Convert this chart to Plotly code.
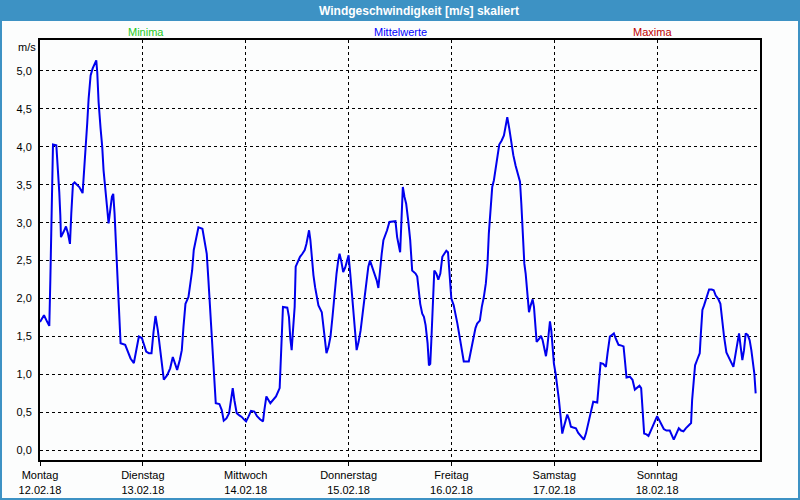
import plotly.graph_objects as go

# ---- data (hours since Monday 12.02.18 00:00, wind speed m/s) ----
hours = [
    0, 0.93, 1.71, 2.17, 2.41, 2.64, 2.87, 3.03, 3.81, 4.19, 4.50, 4.74, 4.89, 5.51, 6.06, 6.52, 6.99,
    7.30, 7.69, 8.08, 9.17, 9.94, 10.25, 10.56, 11.03, 11.34, 11.81, 12.27, 13.13, 13.36, 13.67, 14.14,
    14.52, 14.83, 15.30, 15.69, 16.0, 16.39, 16.78, 17.09, 17.40, 17.79, 18.17, 18.49, 18.80, 19.88,
    20.50, 21.13, 21.90, 22.52, 23.07, 23.77, 24.23, 24.78, 25.40, 26.02, 26.49, 26.95, 27.50, 27.96,
    28.43, 28.89, 29.67, 30.37, 30.99, 31.53, 32.0, 32.62, 33.09, 33.48, 33.94, 34.64, 35.11, 35.50,
    35.88, 36.35, 36.97, 37.90, 38.37, 38.91, 39.30, 39.69, 40.08, 40.54, 41.01, 41.86, 42.41, 42.87,
    43.50, 44.12, 44.58, 44.97, 45.36, 45.90, 46.52, 47.07, 47.53, 48.08, 48.62, 49.24, 50.02, 50.64,
    51.34, 52.04, 52.35, 52.82, 53.75, 54.37, 55.07, 55.92,
    56.06, 56.30, 56.53, 56.69, 57.70, 58.09, 58.41, 58.72, 59.03, 59.42, 59.66, 60.13, 60.67, 61.22,
    61.77, 62.16, 62.47, 62.78, 63.09, 63.41, 63.80, 64.19, 64.58, 64.97, 65.75, 66.14, 66.53, 66.84,
    67.31, 67.78, 68.25, 68.72, 69.19, 69.58, 69.89, 70.28, 70.75, 71.22, 71.69, 72.0, 72.39, 72.78,
    73.09, 73.48, 73.88, 74.34, 74.81, 75.28, 75.75, 76.22, 76.61, 77.0, 77.47, 78.02, 78.56, 78.95,
    79.34, 79.73, 80.13, 80.59, 80.98, 81.53, 82.31, 82.94, 83.33, 83.72, 84.03, 84.34, 84.66, 85.05,
    85.44, 85.91, 86.38, 86.84, 87.63, 88.02, 88.33, 88.72, 89.19, 89.58, 89.97, 90.44, 90.75, 91.06,
    91.30, 91.53, 91.77, 92.0, 92.47, 92.94, 93.41, 93.88, 94.34, 94.81, 95.20, 95.59, 95.98, 96.53,
    97.0, 97.39, 97.78, 98.17, 98.56, 98.88, 100.05, 100.52, 101.06, 101.61, 102.0, 102.63, 103.09,
    103.56, 104.03, 104.42, 104.73, 105.13, 105.52, 105.91, 106.38, 106.77, 107.16, 107.70, 108.25,
    108.64, 109.03, 109.50, 109.97, 110.44, 110.98, 111.53, 111.84,
    112.0, 112.31, 112.54, 112.78, 113.01, 113.32, 113.55, 113.79, 114.10, 114.49, 114.95, 115.26,
    115.57, 115.88, 116.50, 116.89, 117.28, 117.67, 118.06, 118.37, 118.68, 118.99, 119.30, 119.61,
    119.92, 120.31, 120.70, 121.09, 121.48, 121.86, 122.25, 122.72, 123.03, 123.50, 123.88, 124.43,
    125.05, 125.59, 126.21, 126.91, 127.38, 127.92, 128.47, 129.09, 130.02, 130.33, 130.80, 131.42,
    132.04, 132.43, 132.97, 133.44, 133.90, 134.37, 134.99, 135.69, 136.16, 136.47, 136.85, 137.63,
    138.25, 138.80, 139.34, 139.88, 140.27, 140.58, 140.97, 141.51, 141.98, 142.45, 142.91, 143.46,
    144.0, 144.47, 145.01, 145.55, 146.17, 146.95, 147.42, 147.88, 148.50, 149.05, 149.59, 150.14,
    150.68, 151.30, 151.92, 152.16, 152.47, 152.85, 153.32, 153.94, 154.25, 154.56, 154.95, 155.50,
    156.12, 156.74, 157.20, 157.67, 158.21, 158.76, 159.22, 159.61, 160.16, 160.70, 161.24, 161.79,
    162.33, 162.72, 163.11, 163.50, 163.88, 164.27, 164.66, 165.13, 165.59, 165.98, 166.37, 166.68,
    166.99,
]
speed = [
    1.69, 1.78, 1.69, 1.64, 2.24, 2.83, 3.44, 4.03, 4.02, 3.71, 3.40, 3.10, 2.81, 2.88, 2.95, 2.86, 2.72,
    3.12, 3.51, 3.53, 3.47, 3.39, 3.62, 3.97, 4.32, 4.63, 4.94, 5.03, 5.14, 4.98, 4.59, 4.24,
    4.00, 3.69, 3.34, 3.18, 2.99, 3.16, 3.34, 3.38, 3.12, 2.64, 2.24, 1.89, 1.41, 1.39,
    1.30, 1.21, 1.15, 1.36, 1.50, 1.48, 1.41, 1.30, 1.28, 1.28, 1.56, 1.77, 1.58, 1.36,
    1.14, 0.93, 0.99, 1.08, 1.23, 1.12, 1.06, 1.19, 1.32, 1.63, 1.93, 2.02, 2.18, 2.37,
    2.64, 2.77, 2.94, 2.92, 2.77, 2.59, 2.24, 1.89, 1.45, 1.01, 0.62, 0.61, 0.53, 0.39,
    0.42, 0.49, 0.68, 0.82, 0.66, 0.49, 0.46, 0.44, 0.41, 0.38, 0.44, 0.52, 0.51, 0.45,
    0.41, 0.38, 0.53, 0.71, 0.62, 0.66, 0.71, 0.82,
    1.06, 1.34, 1.63, 1.89, 1.88, 1.76, 1.47, 1.32, 1.58, 1.89, 2.42, 2.48, 2.55, 2.59,
    2.64, 2.72, 2.83, 2.90, 2.77, 2.50, 2.31, 2.15, 2.04, 1.91, 1.82, 1.63, 1.45, 1.28,
    1.36, 1.50, 1.76, 2.07, 2.33, 2.50, 2.59, 2.50, 2.35, 2.41, 2.53, 2.57, 2.33, 2.07,
    1.76, 1.54, 1.32, 1.43, 1.58, 1.80, 2.00, 2.20, 2.42, 2.50, 2.42, 2.33, 2.24, 2.14,
    2.42, 2.59, 2.77, 2.83, 2.90, 3.01, 3.02, 3.02, 2.81, 2.68, 2.61, 3.03, 3.47, 3.34,
    3.25, 3.03, 2.77, 2.37, 2.33, 2.29, 2.13, 1.93, 1.80, 1.76, 1.65, 1.41, 1.12, 1.14,
    1.43, 1.76, 2.07, 2.37, 2.33, 2.25, 2.33, 2.55, 2.59, 2.63, 2.61, 2.31, 2.00, 1.91,
    1.80, 1.67, 1.54, 1.41, 1.28, 1.17, 1.17, 1.30, 1.47, 1.61, 1.67, 1.71, 1.89,
    2.02, 2.20, 2.46, 2.86, 3.16, 3.47, 3.56, 3.73, 3.91, 4.03, 4.08, 4.15,
    4.27, 4.39, 4.24, 4.04, 3.89, 3.75, 3.62, 3.56,
    3.54, 3.25, 2.99, 2.73, 2.46, 2.33, 2.15, 2.04, 1.82, 1.91, 1.99, 1.89,
    1.69, 1.43, 1.47, 1.51, 1.45, 1.36, 1.24, 1.36, 1.58, 1.70, 1.58, 1.34,
    1.14, 1.01, 0.86, 0.66, 0.44, 0.22, 0.31, 0.40, 0.47, 0.40, 0.31, 0.30,
    0.29, 0.23, 0.18, 0.14, 0.22, 0.36, 0.49, 0.64, 0.63, 0.88, 1.15, 1.14,
    1.10, 1.28, 1.50, 1.52, 1.54, 1.47, 1.39, 1.38, 1.37, 1.19, 0.96, 0.97,
    0.93, 0.80, 0.82, 0.85, 0.82, 0.53, 0.22, 0.21, 0.19, 0.25, 0.31, 0.38,
    0.45, 0.40, 0.33, 0.28, 0.26, 0.26, 0.20, 0.14, 0.22, 0.29, 0.26, 0.25,
    0.29, 0.33, 0.36, 0.66, 0.84, 1.12, 1.19, 1.28, 1.58, 1.85, 1.91, 2.01,
    2.12, 2.12, 2.11, 2.04, 2.00, 1.93, 1.67, 1.50, 1.29, 1.23, 1.17, 1.10,
    1.28, 1.43, 1.54, 1.36, 1.19, 1.32, 1.54, 1.52, 1.45, 1.32, 1.12, 1.01,
    0.75,
]

day_hours = [0, 24, 48, 72, 96, 120, 144]
day_names = ["Montag", "Dienstag", "Mittwoch", "Donnerstag", "Freitag", "Samstag", "Sonntag"]
day_dates = ["12.02.18", "13.02.18", "14.02.18", "15.02.18", "16.02.18", "17.02.18", "18.02.18"]
y_ticks = [0, 0.5, 1.0, 1.5, 2.0, 2.5, 3.0, 3.5, 4.0, 4.5, 5.0]
y_labels = ["0,0", "0,5", "1,0", "1,5", "2,0", "2,5", "3,0", "3,5", "4,0", "4,5", "5,0"]

title_text = "Windgeschwindigkeit [m/s] skaliert"
legend_items = [("Minima", "#1ec81e", 0.1472), ("Mittelwerte", "#0000ff", 0.5007), ("Maxima", "#c00000", 0.85)]

FONT = "Liberation Sans, Arial, sans-serif"
BAR = "#3d92c4"
BG = "#fcfdfd"

fig = go.Figure()
fig.add_trace(go.Scatter(
    x=hours, y=speed, mode="lines",
    line=dict(color="#0000ee", width=2),
    hoverinfo="skip", showlegend=False,
))

fig.update_layout(
    width=800, height=500,
    margin=dict(l=40, r=40, t=40, b=40, autoexpand=False),
    paper_bgcolor=BG, plot_bgcolor=BG,
    font=dict(family=FONT, size=11, color="#000000"),
    showlegend=False,
)

fig.update_xaxes(
    range=[0, 168],
    tickvals=day_hours,
    ticktext=[f"{n}<br>{d}" for n, d in zip(day_names, day_dates)],
    showgrid=True, gridcolor="#000000", gridwidth=1, griddash="3px,3px",
    showline=True, linecolor="#000000", linewidth=2, mirror=True,
    ticks="outside", ticklen=4, tickcolor="#000000", tickwidth=1,
    ticklabelstandoff=0, automargin=False,
    zeroline=False, fixedrange=True,
)
fig.update_yaxes(
    range=[-0.128, 5.408],
    tickvals=y_ticks, ticktext=y_labels,
    showgrid=True, gridcolor="#000000", gridwidth=1, griddash="3px,3px",
    showline=True, linecolor="#000000", linewidth=2, mirror=True,
    ticks="", ticklabelstandoff=4, automargin=False,
    zeroline=False, fixedrange=True,
)

shapes = [
    # title bar
    dict(type="rect", xref="paper", yref="paper", x0=-0.06, x1=1.06, y0=1.0452, y1=1.10,
         fillcolor=BAR, line=dict(width=0), layer="above"),
    # window frame
    dict(type="rect", xref="paper", yref="paper", x0=-0.05417, x1=1.05417, y0=-0.09286, y1=1.0929,
         fillcolor="rgba(0,0,0,0)", line=dict(color=BAR, width=2), layer="above"),
]
fig.update_layout(shapes=shapes)

annotations = [
    dict(text=f"<b>{title_text}</b>", xref="paper", yref="paper", x=0.5257, y=1.0702,
         xanchor="center", yanchor="middle", showarrow=False,
         font=dict(family=FONT, size=12, color="#ffffff")),
    dict(text="m/s", xref="paper", yref="paper", x=-0.003, y=0.9845,
         xanchor="right", yanchor="middle", showarrow=False,
         font=dict(family=FONT, size=11, color="#000000")),
]
for name, col, px in legend_items:
    annotations.append(dict(text=name, xref="paper", yref="paper", x=px, y=1.019,
                            xanchor="center", yanchor="middle", showarrow=False,
                            font=dict(family=FONT, size=11, color=col)))
fig.update_layout(annotations=annotations)

fig.write_html(
    "out.html",
    config={"displayModeBar": False},
    post_script="document.body.style.margin='0';document.body.style.overflow='hidden';",
)
